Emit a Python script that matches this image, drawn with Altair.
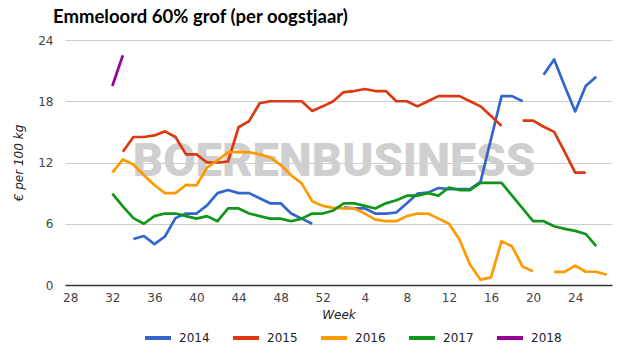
import altair as alt
import pandas as pd

N = None
# season order: week 28 .. week 52, week 1 .. week 27
weeks = [28, 29, 30, 31, 32, 33, 34, 35, 36, 37, 38, 39, 40, 41, 42, 43, 44, 45, 46, 47, 48, 49, 50, 51, 52,
         1, 2, 3, 4, 5, 6, 7, 8, 9, 10, 11, 12, 13, 14, 15, 16, 17, 18, 19, 20, 21, 22, 23, 24, 25, 26, 27]

years = ["2014", "2015", "2016", "2017", "2018"]
colors = ["#3366cc", "#dc3912", "#ff9900", "#109618", "#990099"]

v2014 = [N, N, N, N, N, N,
         4.5, 4.8, 4.0, 4.75, 6.55, 7.0, 7.0, 7.8, 9.0, 9.3, 9.0, 9.0, 8.5, 8.0, 8.0, 7.0, 6.5, 6.0,
         N, N,
         7.6, 7.5, 7.5, 7.0, 7.0, 7.1, 8.0, 8.95, 9.05, 9.5, 9.4, 9.4, 9.4, 10.1, 14.3, 18.5, 18.5, 18.0,
         N,
         20.6, 22.1, 19.5, 17.0, 19.5, 20.4,
         N]
v2015 = [N, N, N, N, N,
         13.05, 14.5, 14.5, 14.65, 15.05, 14.5, 12.8, 12.8, 12.0, 12.0, 12.1, 15.45, 16.05, 17.8, 18.0,
         18.0, 18.0, 18.0, 17.05, 17.5,
         18.0, 18.9, 19.0, 19.2, 19.0, 19.0, 18.0, 18.0, 17.5, 18.0, 18.5, 18.5, 18.5, 18.0, 17.5, 16.55, 15.57,
         N,
         16.1, 16.1, 15.5, 15.0, 13.05, 11.0, 11.0,
         N, N]
v2016 = [N, N, N, N,
         11.0, 12.3, 11.8, 10.75, 9.8, 9.0, 9.0, 9.8, 9.75, 11.5, 12.2, 13.0, 13.05, 13.0, 12.8, 12.5,
         11.75, 10.75, 9.95, 8.2, 7.75,
         7.55, 7.5, 7.5, 7.0, 6.4, 6.25, 6.25, 6.75, 7.0, 7.0, 6.5, 6.0, 4.45, 2.0, 0.52, 0.75, 4.3, 3.77,
         1.8, 1.35,
         N,
         1.28, 1.28, 1.9, 1.3, 1.3, 1.0]
v2017 = [N, N, N, N,
         8.95, 7.7, 6.55, 6.0, 6.75, 7.0, 7.0, 6.75, 6.5, 6.75, 6.25, 7.5, 7.5, 7.0, 6.75, 6.5, 6.5, 6.25,
         6.5, 7.0, 7.0,
         7.3, 8.0, 8.0, 7.75, 7.5, 8.0, 8.3, 8.75, 8.75, 9.0, 8.75, 9.55, 9.3, 9.3, 10.0, 10.0, 10.0, 8.75,
         7.5, 6.25, 6.25, 5.75, 5.5, 5.3, 5.0, 3.8,
         N]
v2018 = [N, N, N, N,
         19.5, 22.5,
         N, N, N, N, N, N, N, N, N, N, N, N, N, N, N, N, N, N, N,
         N, N, N, N, N, N, N, N, N, N, N, N, N, N, N, N, N, N, N, N, N, N, N, N, N, N, N]

tick_weeks = [28, 32, 36, 40, 44, 48, 52, 4, 8, 12, 16, 20, 24]
y_ticks = [0, 6, 12, 18, 24]

series = {"2014": v2014, "2015": v2015, "2016": v2016, "2017": v2017, "2018": v2018}
rows = []
for yr, vals in series.items():
    seg = 0
    for i, v in enumerate(vals):
        if v is None:
            seg += 1
            continue
        rows.append({"pos": i + 1, "week": weeks[i], "year": yr, "value": v, "seg": f"{yr}-{seg}"})
df = pd.DataFrame(rows)

tick_pos = [weeks.index(w) + 1 for w in tick_weeks]

lines = alt.Chart(df).mark_line(strokeWidth=2.7, strokeJoin="round", strokeCap="butt").encode(
    x=alt.X("pos:Q",
            scale=alt.Scale(domain=[0.5, 52.5], nice=False, zero=False),
            axis=alt.Axis(values=tick_pos,
                          labelExpr="datum.value <= 25 ? datum.value + 27 : datum.value - 25",
                          title="Week", grid=False, ticks=False,
                          domainColor="#333333", domainWidth=1.5,
                          labelPadding=7, titlePadding=6,
                          titleFontStyle="italic", titleFontWeight="normal")),
    y=alt.Y("value:Q",
            scale=alt.Scale(domain=[0, 24], nice=False),
            axis=alt.Axis(values=y_ticks, title="€ per 100 kg", grid=True, gridColor="#cccccc",
                          domain=False, ticks=False, labelPadding=12, titlePadding=12,
                          titleFontStyle="italic", titleFontWeight="normal")),
    color=alt.Color("year:N", scale=alt.Scale(domain=years, range=colors),
                    legend=alt.Legend(orient="none", legendX=78, legendY=283, direction="horizontal",
                                      symbolType="stroke", symbolStrokeWidth=4, symbolSize=676,
                                      labelFontSize=12, labelFont="DejaVu Sans", labelColor="#222222",
                                      columnPadding=15, labelOffset=6, title=None)),
    detail="seg:N",
    order="pos:Q",
)

wm = alt.Chart(pd.DataFrame({"t": ["BOERENBUSINESS"]})).mark_text(
    font="Roboto", fontWeight=900, fontSize=47, color="#cfcfcf", align="center", baseline="middle"
).encode(text="t:N", x=alt.value(269), y=alt.value(122))

chart = alt.layer(wm, lines).properties(
    width=547, height=245,
    autosize=alt.AutoSizeParams(type="none"),
    padding={"left": 65, "top": 40, "right": 13, "bottom": 70},
    title=alt.TitleParams(text="Emmeloord 60% grof (per oogstjaar)", anchor="start", frame="group",
                          font="Lato", fontSize=18.5, fontWeight="bold", color="#000000",
                          dx=-12, offset=8),
).configure_view(stroke=None).configure_axis(
    labelFont="DejaVu Sans", labelFontSize=12, labelColor="#444444",
    titleFont="DejaVu Sans", titleFontSize=12, titleColor="#222222",
)

chart.save("out.html", embed_options={"renderer": "svg", "actions": False})
